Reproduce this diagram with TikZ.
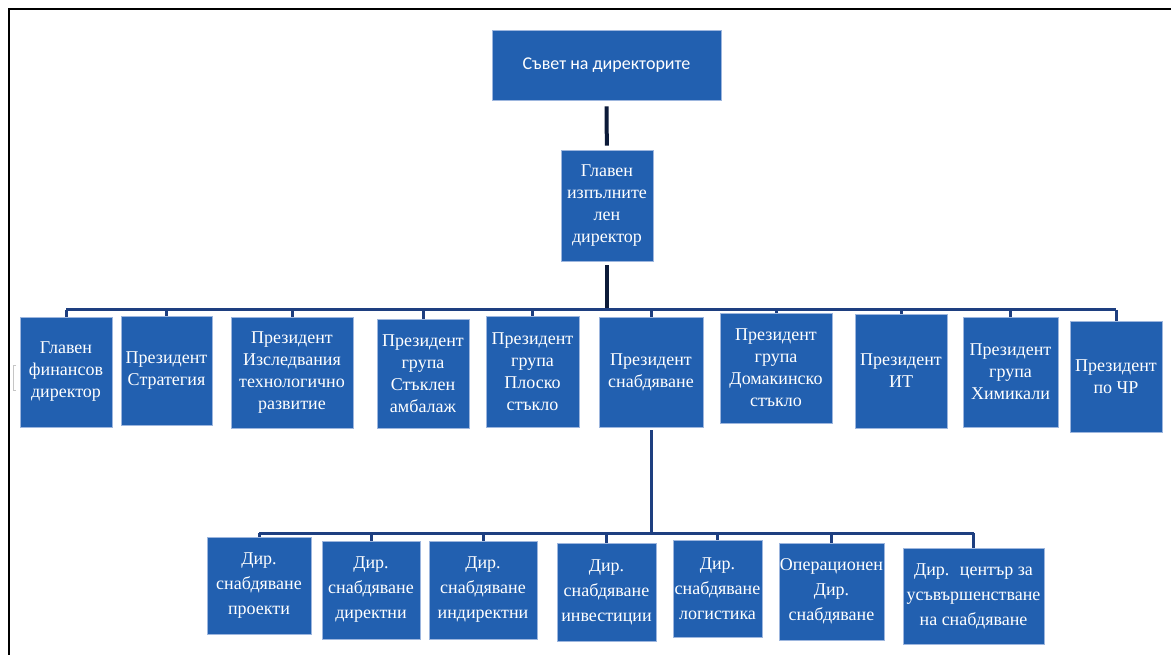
\documentclass[tikz,border=0pt]{standalone}
\usepackage{fontspec}
\setmainfont{Liberation Serif}
\newfontfamily\boardfont{Carlito}
\definecolor{boxblue}{HTML}{2260B0}
\definecolor{boxedge}{HTML}{9DB6DE}
\definecolor{darkline}{HTML}{0C1A38}
\definecolor{busblue}{HTML}{1E3F80}
\begin{document}
\begin{tikzpicture}[x=1pt,y=-1pt,
  box/.style={fill=boxblue, draw=boxedge, line width=0.6pt, inner sep=0pt,
    text=white, align=center, font=\fontsize{18}{22}\selectfont},
  boxb/.style={box, font=\fontsize{18}{25}\selectfont},
  vline/.style={draw=darkline, line width=4pt},
  busline/.style={draw=busblue, line width=3pt}]
\useasboundingbox (0,0) rectangle (1171,655);
\fill[white] (0,0) rectangle (1171,655);
% frame
\draw[line width=2.5pt, black] (9,655) -- (9,9) -- (1171,9);
% small bracket artifact
\draw[gray!45, line width=0.8pt] (16,365) -- (13,365) -- (13,390) -- (16,390);

% top levels
\node[box, minimum width=229pt, minimum height=70pt, font=\boardfont\fontsize{18}{22}\selectfont] (board) at (606.5,65) {Съвет на директорите};
\node[box, minimum width=92pt, minimum height=111pt] (ceo) at (607,205.5) {Главен\\изпълните\\лен\\директор};

% row 1
\node[box, minimum width=92pt, minimum height=110pt] (b1) at (66,372) {Главен\\финансов\\директор};
\node[box, minimum width=91pt, minimum height=109pt] (b2) at (166.5,370.5) {Президент\\Стратегия};
\node[box, minimum width=122pt, minimum height=111pt] (b3) at (292,372.5) {Президент\\Изследвания\\технологично\\развитие};
\node[box, minimum width=92pt, minimum height=109pt] (b4) at (423,373.5) {Президент\\група\\Стъклен\\амбалаж};
\node[box, minimum width=93pt, minimum height=111pt] (b5) at (532.5,371.5) {Президент\\група\\Плоско\\стъкло};
\node[box, minimum width=104pt, minimum height=110pt] (b6) at (651,372) {Президент\\снабдяване};
\node[box, minimum width=112pt, minimum height=110pt] (b7) at (776,368) {Президент\\група\\Домакинско\\стъкло};
\node[box, minimum width=92pt, minimum height=114pt] (b8) at (901,371) {Президент\\ИТ};
\node[box, minimum width=95pt, minimum height=110pt] (b9) at (1010.5,372) {Президент\\група\\Химикали};
\node[box, minimum width=92pt, minimum height=111pt] (b10) at (1116,376.5) {Президент\\по ЧР};

% row 2
\node[boxb, minimum width=104pt, minimum height=97pt] (d1) at (259,585.5) {Дир.\\снабдяване\\проекти};
\node[boxb, minimum width=98pt, minimum height=98pt] (d2) at (371,590) {Дир.\\снабдяване\\директни};
\node[boxb, minimum width=108pt, minimum height=98pt] (d3) at (483,590) {Дир.\\снабдяване\\индиректни};
\node[boxb, minimum width=99pt, minimum height=98pt] (d4) at (606.5,592) {Дир.\\снабдяване\\инвестиции};
\node[boxb, minimum width=89pt, minimum height=97pt] (d5) at (717.5,588.5) {Дир.\\снабдяване\\логистика};
\node[boxb, minimum width=105pt, minimum height=97pt] (d6) at (831.5,591.5) {Операционен\\Дир.\\снабдяване};
\node[boxb, minimum width=141pt, minimum height=96pt] (d7) at (973.5,596) {Дир.~ център за\\усъвършенстване\\на снабдяване};

% connectors level 0-1
\draw[vline, shorten <=6pt, shorten >=4pt] (board) -- (ceo);
\coordinate (bus1) at (607,310);
\draw[vline, shorten <=4pt] (ceo.south) -- (bus1);
\draw[busline] (b1.north |- bus1) -- (b10.north |- bus1);
\foreach \n in {b1,b2,b3,b4,b5,b6,b7,b8,b9,b10}
  \draw[busline] (\n.north |- bus1) -- (\n.north);

% connectors level 2
\coordinate (bus2) at (651,533);
\draw[busline, shorten <=3pt] (b6.south) -- (bus2);
\draw[busline] (d1.north |- bus2) -- (d7.north |- bus2);
\foreach \n in {d1,d2,d3,d4,d5,d6,d7}
  \draw[busline] (\n.north |- bus2) -- (\n.north);
\end{tikzpicture}
\end{document}
